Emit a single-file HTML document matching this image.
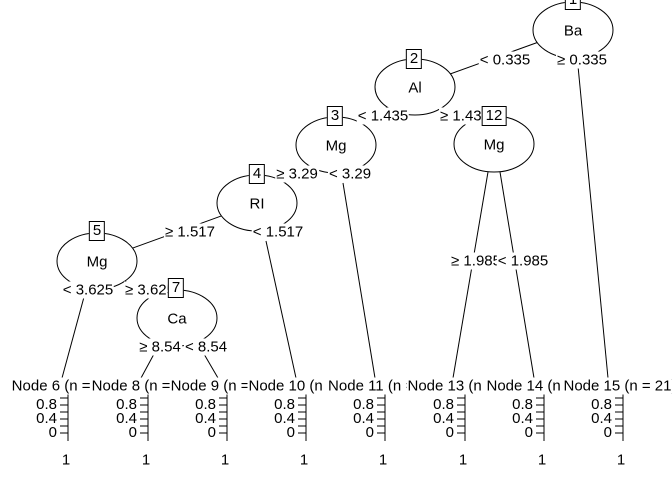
<!DOCTYPE html>
<html><head><meta charset="utf-8"><style>
html,body{margin:0;padding:0;background:#fff;}
#w{position:relative;width:672px;height:480px;overflow:hidden;font-family:"Liberation Sans",Arial,sans-serif;font-size:15px;color:#000;}
svg{position:absolute;left:0;top:0;}
.l{position:absolute;background:#fff;white-space:nowrap;line-height:17px;transform:translate(-50%,-50%);padding:0 1px;}
.b{position:absolute;background:#fff;border:1px solid #000;line-height:18px;transform:translate(-50%,-50%);padding:0 3px;}
.t{position:absolute;white-space:nowrap;line-height:14px;transform:translate(-100%,-50%);}
</style></head><body><div id="w">
<svg width="672" height="480" stroke="#000" fill="none" stroke-width="1">
<line x1="572" y1="30" x2="414" y2="87"/>
<line x1="578" y1="66" x2="608" y2="378"/>
<line x1="414" y1="87" x2="336" y2="145"/>
<line x1="414" y1="87" x2="494" y2="145"/>
<line x1="336" y1="145" x2="257" y2="203"/>
<line x1="343" y1="183" x2="375" y2="378"/>
<line x1="257" y1="203" x2="97" y2="261"/>
<line x1="266" y1="241" x2="296" y2="378"/>
<line x1="84" y1="297" x2="62" y2="378"/>
<line x1="97" y1="261" x2="177" y2="318"/>
<line x1="154" y1="354" x2="141" y2="378"/>
<line x1="204" y1="354" x2="218" y2="378"/>
<line x1="488" y1="172" x2="453" y2="378"/>
<line x1="500" y1="172" x2="534" y2="378"/>
<g fill="#fff">
<ellipse cx="573" cy="30" rx="40" ry="28"/>
<ellipse cx="415" cy="87" rx="40" ry="28"/>
<ellipse cx="336" cy="145" rx="40" ry="28"/>
<ellipse cx="494" cy="144" rx="40" ry="28"/>
<ellipse cx="257" cy="203" rx="40" ry="28"/>
<ellipse cx="97" cy="261" rx="40" ry="28"/>
<ellipse cx="177" cy="318" rx="40" ry="28"/>
</g>
<g id="ax"></g>
</svg>
<div class="l" style="left:573px;top:31px">Ba</div>
<div class="l" style="left:415px;top:88px">Al</div>
<div class="l" style="left:336px;top:146px">Mg</div>
<div class="l" style="left:494px;top:145px">Mg</div>
<div class="l" style="left:257px;top:204px">RI</div>
<div class="l" style="left:97px;top:262px">Mg</div>
<div class="l" style="left:177px;top:319px">Ca</div>
<div class="l" style="left:505px;top:60px">&lt; 0.335</div>
<div class="l" style="left:582px;top:60px">≥ 0.335</div>
<div class="l" style="left:383px;top:116px">&lt; 1.435</div>
<div class="l" style="left:465px;top:116px">≥ 1.435</div>
<div class="l" style="left:297px;top:174px">≥ 3.29</div>
<div class="l" style="left:350px;top:174px">&lt; 3.29</div>
<div class="l" style="left:190px;top:232px">≥ 1.517</div>
<div class="l" style="left:278px;top:232px">&lt; 1.517</div>
<div class="l" style="left:88px;top:290px">&lt; 3.625</div>
<div class="l" style="left:150px;top:290px">≥ 3.625</div>
<div class="l" style="left:160px;top:347px">≥ 8.54</div>
<div class="l" style="left:206px;top:347px">&lt; 8.54</div>
<div class="l" style="left:476px;top:261px">≥ 1.985</div>
<div class="l" style="left:523px;top:261px">&lt; 1.985</div>
<div class="b" style="left:573px;top:0px">1</div>
<div class="b" style="left:414px;top:59px">2</div>
<div class="b" style="left:335px;top:116px">3</div>
<div class="b" style="left:257px;top:174px">4</div>
<div class="b" style="left:97px;top:231px">5</div>
<div class="b" style="left:176px;top:288px">7</div>
<div class="b" style="left:494px;top:116px">12</div>
<div class="l" style="left:64px;top:386px">Node 6 (n = 12)</div>
<div class="l" style="left:144px;top:386px">Node 8 (n = 12)</div>
<div class="l" style="left:223px;top:386px">Node 9 (n = 12)</div>
<div class="l" style="left:305px;top:386px">Node 10 (n = 12)</div>
<div class="l" style="left:384px;top:386px">Node 11 (n = 12)</div>
<div class="l" style="left:464px;top:386px">Node 13 (n = 12)</div>
<div class="l" style="left:543px;top:386px">Node 14 (n = 12)</div>
<div class="l" style="left:620px;top:386px">Node 15 (n = 21)</div>
<div id="panels"></div>
<script>
var xs=[68,148,227,306,385,465,544,623],h='',s='';
xs.forEach(function(x){
 s+='<line x1="'+x+'" y1="394" x2="'+x+'" y2="441"/>';
 for(var i=0;i<6;i++){var y=398+i*7;s+='<line x1="'+(x-8)+'" y1="'+y+'" x2="'+x+'" y2="'+y+'"/>';}
 h+='<div class="t" style="left:'+(x-11)+'px;top:405px">0.8</div><div class="t" style="left:'+(x-11)+'px;top:419px">0.4</div><div class="t" style="left:'+(x-11)+'px;top:433px">0</div><div class="l" style="left:'+(x-2)+'px;top:460px;background:none">1</div>';
});
document.getElementById('ax').innerHTML=s;
document.getElementById('panels').innerHTML=h;
</script>
</div></body></html>
